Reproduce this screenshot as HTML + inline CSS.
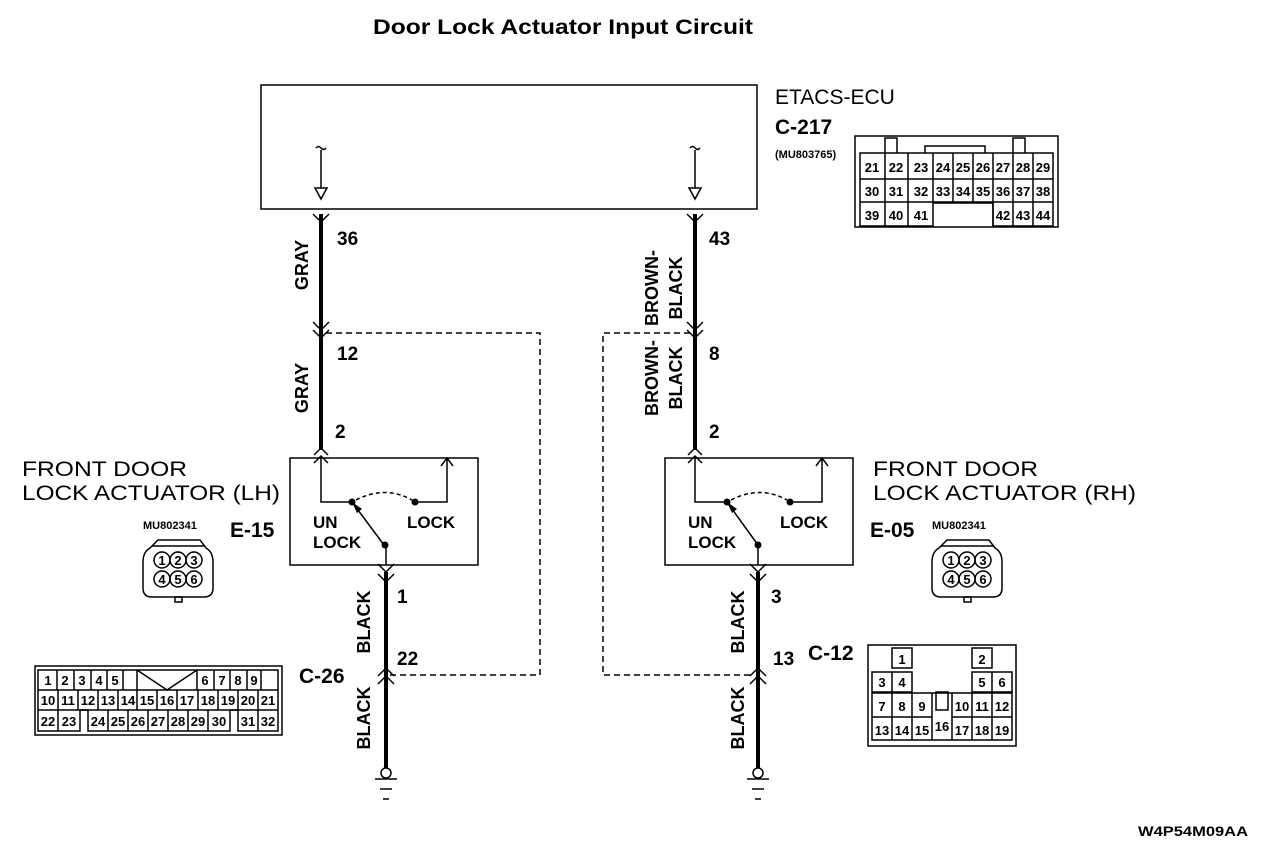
<!DOCTYPE html>
<html><head><meta charset="utf-8"><style>
html,body{margin:0;padding:0;background:#fff}
svg{display:block}
text{font-family:"Liberation Sans",sans-serif;fill:#000}
.b{font-weight:bold}
.n{font-weight:bold;font-size:13px;text-anchor:middle}
</style></head><body>
<svg width="1280" height="860" viewBox="0 0 1280 860" xmlns="http://www.w3.org/2000/svg">
<g fill="none" stroke="#000" stroke-width="1.5">
<rect x="261" y="85" width="496" height="124"/>
<line x1="321" y1="150" x2="321" y2="188"/>
<path d="M316 148 q2.5 -3 5 0 t5 0"/>
<path d="M315 188 L327 188 L321 199 Z"/>
<line x1="695" y1="150" x2="695" y2="188"/>
<path d="M690 148 q2.5 -3 5 0 t5 0"/>
<path d="M689 188 L701 188 L695 199 Z"/>
<path d="M326 333 H540 V675 H390" stroke-dasharray="6,4"/>
<path d="M690 333 H603 V675 H752" stroke-dasharray="6,4"/>
<rect x="290" y="458" width="188" height="107"/>
<rect x="665" y="458" width="188" height="107"/>
<path d="M321 458 V502 H352"/>
<path d="M415 502 H447 V458"/>
<path d="M441 466 L447 458 L453 466"/>
<path d="M356 500 Q385 485 412 500" stroke-dasharray="4,3"/>
<line x1="352" y1="502" x2="384" y2="545"/>
<line x1="386" y1="545" x2="386" y2="565"/>
<path d="M695 458 V502 H727"/>
<path d="M790 502 H822 V458"/>
<path d="M816 466 L822 458 L828 466"/>
<path d="M731 500 Q760 485 787 500" stroke-dasharray="4,3"/>
<line x1="727" y1="502" x2="758" y2="545"/>
<line x1="758" y1="545" x2="758" y2="565"/>
<g stroke-width="1.5">
<path d="M313 214 L321 222 L329 214"/>
<path d="M687 214 L695 222 L703 214"/>
<path d="M313 322 L321 330 L329 322 M313 330 L321 338 L329 330"/>
<path d="M687 322 L695 330 L703 322 M687 330 L695 338 L703 330"/>
<path d="M314 455 L321 448 L328 455 M314 463 L321 456 L328 463"/>
<path d="M688 455 L695 448 L702 455 M688 463 L695 456 L702 463"/>
<path d="M378 564 L386 572 L394 564 M378 574 L386 582 L394 574"/>
<path d="M750 564 L758 572 L766 564 M750 574 L758 582 L766 574"/>
<path d="M378 676 L386 668 L394 676 M378 684 L386 676 L394 684"/>
<path d="M750 676 L758 668 L766 676 M750 684 L758 676 L766 684"/>
</g>
<circle cx="386" cy="773" r="5"/>
<line x1="375" y1="779" x2="397" y2="779"/>
<line x1="380" y1="789" x2="392" y2="789"/>
<line x1="383" y1="799" x2="389" y2="799"/>
<circle cx="758" cy="773" r="5"/>
<line x1="747" y1="779" x2="769" y2="779"/>
<line x1="752" y1="789" x2="764" y2="789"/>
<line x1="755" y1="799" x2="761" y2="799"/>
</g>
<g stroke="#000" stroke-width="4">
<line x1="321" y1="214" x2="321" y2="450"/>
<line x1="695" y1="214" x2="695" y2="450"/>
<line x1="386" y1="572" x2="386" y2="768"/>
<line x1="758" y1="572" x2="758" y2="768"/>
</g>
<g fill="#000">
<circle cx="352" cy="502" r="3.5"/><circle cx="415" cy="502" r="3.5"/><circle cx="385" cy="545" r="3.5"/>
<circle cx="727" cy="502" r="3.5"/><circle cx="790" cy="502" r="3.5"/><circle cx="758" cy="545" r="3.5"/>
<path d="M352 502 L362 509 L357 513 Z"/>
<path d="M727 502 L737 509 L732 513 Z"/>
</g>
<text x="373" y="34" class="b" font-size="21" textLength="380" lengthAdjust="spacingAndGlyphs">Door Lock Actuator Input Circuit</text>
<text x="775" y="104" font-size="21">ETACS-ECU</text>
<text x="775" y="134" class="b" font-size="21">C-217</text>
<text x="775" y="158" class="b" font-size="11">(MU803765)</text>
<g class="b" font-size="19">
<text x="337" y="245">36</text><text x="337" y="360">12</text><text x="335" y="438">2</text>
<text x="397" y="603">1</text><text x="397" y="665">22</text>
<text x="709" y="245">43</text><text x="709" y="360">8</text><text x="709" y="438">2</text>
<text x="771" y="603">3</text><text x="773" y="665">13</text>
<text x="299" y="683" font-size="21">C-26</text>
<text x="808" y="660" font-size="21">C-12</text>
<text x="230" y="537" font-size="21">E-15</text>
<text x="870" y="537" font-size="21">E-05</text>
</g>
<g class="b" font-size="18">
<text transform="translate(308,265) rotate(-90)" text-anchor="middle">GRAY</text>
<text transform="translate(308,388) rotate(-90)" text-anchor="middle">GRAY</text>
<text transform="translate(370,622) rotate(-90)" text-anchor="middle">BLACK</text>
<text transform="translate(370,718) rotate(-90)" text-anchor="middle">BLACK</text>
<text transform="translate(744,622) rotate(-90)" text-anchor="middle">BLACK</text>
<text transform="translate(744,718) rotate(-90)" text-anchor="middle">BLACK</text>
<text transform="translate(658,288) rotate(-90)" text-anchor="middle">BROWN-</text>
<text transform="translate(682,288) rotate(-90)" text-anchor="middle">BLACK</text>
<text transform="translate(658,378) rotate(-90)" text-anchor="middle">BROWN-</text>
<text transform="translate(682,378) rotate(-90)" text-anchor="middle">BLACK</text>
</g>
<g class="b" font-size="17">
<text x="313" y="528">UN</text><text x="313" y="548">LOCK</text><text x="407" y="528">LOCK</text>
<text x="688" y="528">UN</text><text x="688" y="548">LOCK</text><text x="780" y="528">LOCK</text>
</g>
<g font-size="21">
<text x="22" y="476" textLength="165" lengthAdjust="spacingAndGlyphs">FRONT DOOR</text>
<text x="22" y="500" textLength="258" lengthAdjust="spacingAndGlyphs">LOCK ACTUATOR (LH)</text>
<text x="873" y="476" textLength="165" lengthAdjust="spacingAndGlyphs">FRONT DOOR</text>
<text x="873" y="500" textLength="263" lengthAdjust="spacingAndGlyphs">LOCK ACTUATOR (RH)</text>
</g>
<text x="143" y="529" class="b" font-size="11">MU802341</text>
<text x="932" y="529" class="b" font-size="11">MU802341</text>
<text x="1138" y="836" class="b" font-size="14" textLength="110" lengthAdjust="spacingAndGlyphs">W4P54M09AA</text>

<g fill="none" stroke="#000" stroke-width="1.5">
<path d="M158 540 H200 L206 548 Q213 552 213 562 V588 Q213 597 204 597 H152 Q143 597 143 588 V562 Q143 552 150 548 Z"/>
<line x1="152" y1="546" x2="204" y2="546"/>
<circle cx="162" cy="560" r="8"/><circle cx="178" cy="560" r="8"/><circle cx="194" cy="560" r="8"/>
<circle cx="162" cy="579" r="8"/><circle cx="178" cy="579" r="8"/><circle cx="194" cy="579" r="8"/>
<rect x="175" y="597" width="7" height="5"/>
</g>
<g class="b" font-size="13" text-anchor="middle">
<text x="162" y="565">1</text><text x="178" y="565">2</text><text x="194" y="565">3</text>
<text x="162" y="584">4</text><text x="178" y="584">5</text><text x="194" y="584">6</text>
</g>
<g transform="translate(789,0)" fill="none" stroke="#000" stroke-width="1.5">
<path d="M158 540 H200 L206 548 Q213 552 213 562 V588 Q213 597 204 597 H152 Q143 597 143 588 V562 Q143 552 150 548 Z"/>
<line x1="152" y1="546" x2="204" y2="546"/>
<circle cx="162" cy="560" r="8"/><circle cx="178" cy="560" r="8"/><circle cx="194" cy="560" r="8"/>
<circle cx="162" cy="579" r="8"/><circle cx="178" cy="579" r="8"/><circle cx="194" cy="579" r="8"/>
<rect x="175" y="597" width="7" height="5"/>
</g>
<g class="b" font-size="13" text-anchor="middle">
<text x="951" y="565">1</text><text x="967" y="565">2</text><text x="983" y="565">3</text>
<text x="951" y="584">4</text><text x="967" y="584">5</text><text x="983" y="584">6</text>
</g>

<g fill="none" stroke="#000" stroke-width="1.5">
<rect x="855" y="136" width="203" height="91"/>
<path d="M885 153 V138 H897 V153 M925 153 V146 H985 V153 M1013 153 V138 H1025 V153"/>
<path d="M860 153 H1053 V226 H993 V203 H933 V226 H860 Z"/>
<line x1="860" y1="179" x2="1053" y2="179"/><line x1="860" y1="202" x2="1053" y2="202"/>
<path d="M885 153 V226 M908 153 V226 M933 153 V203 M953 153 V203 M973 153 V203 M993 153 V226 M1013 153 V226 M1033 153 V226"/>
</g>
<g class="n">
<text x="872" y="172">21</text><text x="896" y="172">22</text><text x="921" y="172">23</text><text x="943" y="172">24</text><text x="963" y="172">25</text><text x="983" y="172">26</text><text x="1003" y="172">27</text><text x="1023" y="172">28</text><text x="1043" y="172">29</text>
<text x="872" y="196">30</text><text x="896" y="196">31</text><text x="921" y="196">32</text><text x="943" y="196">33</text><text x="963" y="196">34</text><text x="983" y="196">35</text><text x="1003" y="196">36</text><text x="1023" y="196">37</text><text x="1043" y="196">38</text>
<text x="872" y="220">39</text><text x="896" y="220">40</text><text x="921" y="220">41</text><text x="1003" y="220">42</text><text x="1023" y="220">43</text><text x="1043" y="220">44</text>
</g>

<g fill="none" stroke="#000" stroke-width="1.5">
<rect x="35" y="666" width="247" height="69"/>
<path d="M38 670 H278 V731 H238 V710 H230 V731 H88 V710 H80 V731 H38 Z"/>
<line x1="38" y1="690" x2="278" y2="690"/><line x1="38" y1="710" x2="278" y2="710"/>
<path d="M57 670 V690 M74 670 V690 M91 670 V690 M107 670 V690 M123 670 V690 M137 670 V690 M197 670 V690 M214 670 V690 M230 670 V690 M247 670 V690 M261 670 V690"/>
<path d="M137 670 L167 690 L197 670"/>
<path d="M58 690 V731 M78 690 V710 M98 690 V710 M118 690 V710 M137 690 V710 M157 690 V710 M177 690 V710 M198 690 V710 M218 690 V710 M238 690 V710 M258 690 V710"/>
<path d="M108 710 V731 M128 710 V731 M148 710 V731 M168 710 V731 M188 710 V731 M208 710 V731 M258 710 V731"/>
</g>
<g class="n">
<text x="48" y="685">1</text><text x="65" y="685">2</text><text x="82" y="685">3</text><text x="99" y="685">4</text><text x="115" y="685">5</text><text x="205" y="685">6</text><text x="222" y="685">7</text><text x="238" y="685">8</text><text x="254" y="685">9</text>
<text x="48" y="705">10</text><text x="68" y="705">11</text><text x="88" y="705">12</text><text x="108" y="705">13</text><text x="128" y="705">14</text><text x="147" y="705">15</text><text x="167" y="705">16</text><text x="187" y="705">17</text><text x="208" y="705">18</text><text x="228" y="705">19</text><text x="248" y="705">20</text><text x="268" y="705">21</text>
<text x="48" y="726">22</text><text x="69" y="726">23</text><text x="98" y="726">24</text><text x="118" y="726">25</text><text x="138" y="726">26</text><text x="158" y="726">27</text><text x="178" y="726">28</text><text x="198" y="726">29</text><text x="219" y="726">30</text><text x="248" y="726">31</text><text x="268" y="726">32</text>
</g>

<g fill="none" stroke="#000" stroke-width="1.5">
<rect x="868" y="645" width="148" height="101"/>
<rect x="892" y="648" width="20" height="20"/><rect x="972" y="648" width="20" height="20"/>
<path d="M872 672 H912 V692 H872 Z M972 672 H1012 V692 H972 Z M892 672 V692 M992 672 V692"/>
<path d="M872 693 H1012 V740 H872 Z M872 717 H932 M952 717 H1012 M892 693 V740 M912 693 V740 M932 693 V740 M952 693 V740 M972 693 V740 M992 693 V740"/>
<rect x="936" y="692" width="12" height="18"/>
</g>
<g class="n">
<text x="902" y="664">1</text><text x="982" y="664">2</text>
<text x="882" y="687">3</text><text x="902" y="687">4</text><text x="982" y="687">5</text><text x="1002" y="687">6</text>
<text x="882" y="711">7</text><text x="902" y="711">8</text><text x="922" y="711">9</text><text x="962" y="711">10</text><text x="982" y="711">11</text><text x="1002" y="711">12</text>
<text x="882" y="735">13</text><text x="902" y="735">14</text><text x="922" y="735">15</text><text x="942" y="731">16</text><text x="962" y="735">17</text><text x="982" y="735">18</text><text x="1002" y="735">19</text>
</g>
</svg>
</body></html>
